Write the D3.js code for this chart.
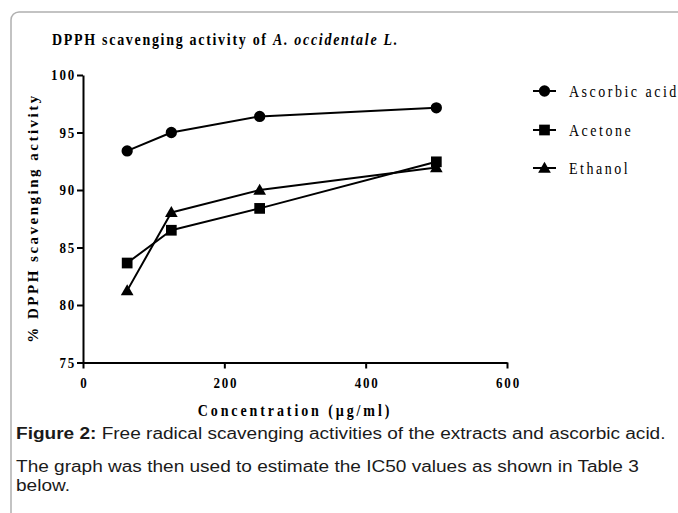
<!DOCTYPE html>
<html>
<head>
<meta charset="utf-8">
<script src="https://cdn.jsdelivr.net/npm/d3@7"></script>
<style>
  html, body { margin: 0; padding: 0; background: #fff; }
  svg { display: block; }
</style>
</head>
<body>
<script>
const concentrations = [62.5, 125, 250, 500];
const ascorbicAcid = [93.4, 95.0, 96.4, 97.15];
const acetone = [83.65, 86.5, 88.4, 92.45];
const ethanol = [81.25, 88.05, 90.0, 91.95];
const seriesNames = ["Ascorbic acid", "Acetone", "Ethanol"];
const seriesSymbols = ["circle", "square", "triangle"];
const xTicks = [0, 200, 400, 600];
const yTicks = [75, 80, 85, 90, 95, 100];

const W = 678, H = 513;
const svg = d3.select("body").append("svg").attr("width", W).attr("height", H);

// frame
svg.append("rect").attr("x", 11).attr("y", 12).attr("width", 700).attr("height", 560)
  .attr("rx", 8).attr("fill", "none").attr("stroke", "#b0b0b0").attr("stroke-width", 1.5);

const x = d3.scaleLinear().domain([0, 600]).range([83, 507]);
const y = d3.scaleLinear().domain([75, 100]).range([362.5, 75]);

const serif = "'Liberation Serif', 'Times New Roman', serif";

// helper: text stretched vertically about its baseline
function stretched(parent, tx, ty, sy) {
  return parent.append("text").attr("transform", `translate(${tx},${ty}) scale(1,${sy})`)
    .attr("font-family", serif).attr("fill", "#000");
}

// title
const title = stretched(svg, 52, 44.5, 1.2).attr("font-weight", "bold").attr("font-size", 14)
  .attr("letter-spacing", 1.7);
title.append("tspan").text("DPPH scavenging activity of ");
title.append("tspan").attr("font-style", "italic").text("A. occidentale L.");

// axes
const yAxis = d3.axisLeft(y).tickValues(yTicks).tickSize(6).tickSizeOuter(0).tickFormat(d3.format("d"));
const xAxis = d3.axisBottom(x).tickValues(xTicks).tickSize(6).tickSizeOuter(0).tickFormat(d3.format("d"));

const gy = svg.append("g").attr("transform", "translate(83,0)").call(yAxis);
const gx = svg.append("g").attr("transform", "translate(0,362.5)").call(xAxis);
[gy, gx].forEach(g => {
  g.select(".domain").attr("stroke", "#000").attr("stroke-width", 2);
  g.selectAll(".tick line").attr("stroke", "#000").attr("stroke-width", 2);
  g.selectAll(".tick text").attr("font-family", serif).attr("font-weight", "bold")
    .attr("font-size", 13).attr("letter-spacing", 1.8).attr("fill", "#000");
});
gy.selectAll(".tick text").attr("x", null).attr("dy", null)
  .attr("transform", "translate(-7,4.5) scale(1,1.05)");
gx.selectAll(".tick text").attr("y", null).attr("dy", null)
  .attr("transform", "translate(1,25.5) scale(1,1.05)");

// axis titles
svg.append("text").attr("transform", "translate(38,218) rotate(-90)")
  .attr("text-anchor", "middle").attr("font-family", serif).attr("font-weight", "bold")
  .attr("font-size", 15).attr("letter-spacing", 2.5).attr("fill", "#000")
  .text("% DPPH scavenging activity");
stretched(svg, 295, 416, 1.2).attr("text-anchor", "middle").attr("font-weight", "bold")
  .attr("font-size", 14).attr("letter-spacing", 2.9)
  .text("Concentration (\u00b5g/ml)");

// series
const allSeries = [ascorbicAcid, acetone, ethanol];
const symbolTypes = { circle: d3.symbolCircle, square: d3.symbolSquare, triangle: d3.symbolTriangle };
const symbolSizes = { circle: 100, square: 115, triangle: 70 };
const line = d3.line().x((d, i) => x(concentrations[i])).y(d => y(d));

allSeries.forEach((vals, si) => {
  svg.append("path").datum(vals).attr("d", line).attr("fill", "none")
    .attr("stroke", "#000").attr("stroke-width", 2).attr("stroke-linejoin", "round");
  const sym = d3.symbol().type(symbolTypes[seriesSymbols[si]]).size(symbolSizes[seriesSymbols[si]]);
  svg.append("g").selectAll("path").data(vals).join("path")
    .attr("transform", (d, i) => `translate(${x(concentrations[i])},${y(d) + (seriesSymbols[si] === "triangle" ? 1 : 0)})`)
    .attr("d", sym).attr("fill", "#000");
});

// legend
const legY = [91, 130, 168];
seriesNames.forEach((name, i) => {
  const g = svg.append("g").attr("transform", `translate(0,${legY[i]})`);
  g.append("line").attr("x1", 533).attr("x2", 556).attr("y1", 0).attr("y2", 0)
    .attr("stroke", "#000").attr("stroke-width", 2);
  const sym = d3.symbol().type(symbolTypes[seriesSymbols[i]]).size(symbolSizes[seriesSymbols[i]]);
  g.append("path").attr("transform", `translate(544.5,${seriesSymbols[i] === "triangle" ? 1 : 0})`)
    .attr("d", sym).attr("fill", "#000");
  stretched(g, 569, 5.5, 1.15).attr("font-size", 14).attr("letter-spacing", 2.5).text(name);
});

// caption (horizontally widened as in the reference)
const sans = "'Liberation Sans', Arial, sans-serif";
const capG = svg.append("g").attr("transform", "translate(16,0) scale(1.19,1)");
const cap = capG.append("text").attr("x", 0).attr("y", 439).attr("font-family", sans)
  .attr("font-size", 16).attr("fill", "#1a1a1a");
cap.append("tspan").attr("font-weight", "bold").text("Figure 2:");
cap.append("tspan").text(" Free radical scavenging activities of the extracts and ascorbic acid.");
capG.append("text").attr("x", 0).attr("y", 472).attr("font-family", sans)
  .attr("font-size", 16).attr("fill", "#1a1a1a")
  .text("The graph was then used to estimate the IC50 values as shown in Table 3");
capG.append("text").attr("x", 0).attr("y", 491).attr("font-family", sans)
  .attr("font-size", 16).attr("fill", "#1a1a1a").text("below.");
</script>
</body>
</html>
